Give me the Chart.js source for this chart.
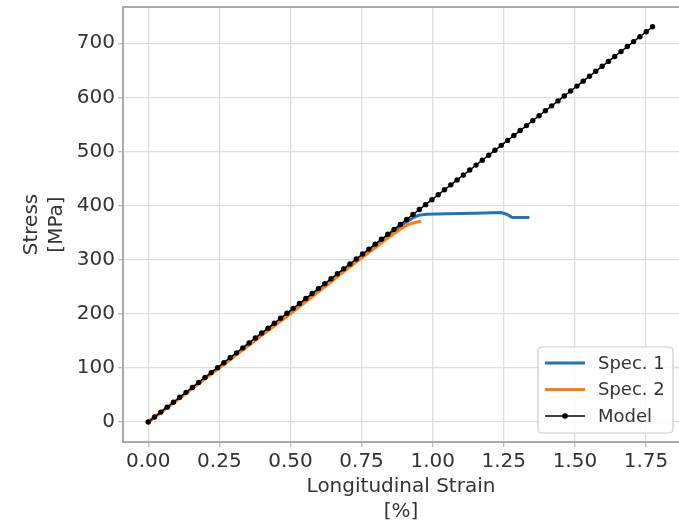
<!DOCTYPE html>
<html>
<head>
<meta charset="utf-8">
<script src="https://cdn.jsdelivr.net/npm/chart.js@4.4.1/dist/chart.umd.min.js"></script>
<style>
  html, body { margin: 0; padding: 0; background: #fff; overflow: hidden; }
  canvas { display: block; }
</style>
</head>
<body>
<canvas id="stressChart" width="679" height="526"></canvas>
<script>
// axis ticks
const xTicks = [0, 0.25, 0.5, 0.75, 1.0, 1.25, 1.5, 1.75];
const yTicks = [0, 100, 200, 300, 400, 500, 600, 700];

// Spec. 1 (measured)
const spec1Strain = [0, 0.1, 0.2, 0.3, 0.4, 0.5, 0.6, 0.7, 0.8, 0.86, 0.9, 0.93, 0.95, 0.98, 1.05, 1.15, 1.24, 1.26, 1.28, 1.34];
const spec1Stress = [0, 40, 81, 122, 163, 204, 245, 286, 327, 351, 367, 377, 382, 384, 385, 386, 387, 384, 378, 378];

// Spec. 2 (measured)
const spec2Strain = [0, 0.1, 0.2, 0.3, 0.4, 0.5, 0.6, 0.7, 0.75, 0.8, 0.85, 0.88, 0.9, 0.92, 0.94, 0.96];
const spec2Stress = [0, 40, 80, 120, 160, 200, 241, 283, 303, 323, 343, 354, 361, 366, 369, 371];

// linear elastic model, as plotted (81 markers)
const modelStrain = [
  0, 0.0222, 0.0443, 0.0665, 0.0887, 0.1108, 0.133, 0.1551, 0.1773, 0.1995,
  0.2216, 0.2438, 0.266, 0.2881, 0.3103, 0.3324, 0.3546, 0.3768, 0.3989, 0.4211,
  0.4433, 0.4654, 0.4876, 0.5097, 0.5319, 0.5541, 0.5762, 0.5984, 0.6206, 0.6427,
  0.6649, 0.687, 0.7092, 0.7314, 0.7535, 0.7757, 0.7979, 0.82, 0.8422, 0.8643,
  0.8865, 0.9087, 0.9308, 0.953, 0.9752, 0.9973, 1.0195, 1.0416, 1.0638, 1.086,
  1.1081, 1.1303, 1.1525, 1.1746, 1.1968, 1.2189, 1.2411, 1.2633, 1.2854, 1.3076,
  1.3298, 1.3519, 1.3741, 1.3962, 1.4184, 1.4406, 1.4627, 1.4849, 1.5071, 1.5292,
  1.5514, 1.5735, 1.5957, 1.6179, 1.64, 1.6622, 1.6844, 1.7065, 1.7287, 1.7508,
  1.773
];
const modelStress = [
  0, 9.13, 18.26, 27.39, 36.52, 45.65, 54.78, 63.91, 73.04, 82.17,
  91.3, 100.43, 109.56, 118.69, 127.82, 136.95, 146.08, 155.21, 164.34, 173.47,
  182.6, 191.73, 200.86, 209.99, 219.12, 228.25, 237.38, 246.51, 255.64, 264.77,
  273.9, 283.03, 292.16, 301.29, 310.42, 319.55, 328.68, 337.81, 346.94, 356.07,
  365.2, 374.33, 383.46, 392.59, 401.72, 410.85, 419.98, 429.11, 438.24, 447.37,
  456.5, 465.63, 474.76, 483.89, 493.02, 502.15, 511.28, 520.41, 529.54, 538.67,
  547.8, 556.93, 566.06, 575.19, 584.32, 593.45, 602.58, 611.71, 620.84, 629.97,
  639.1, 648.23, 657.36, 666.49, 675.62, 684.75, 693.88, 703.01, 712.14, 721.27,
  730.4
];

const seriesLabels = ['Spec. 1', 'Spec. 2', 'Model'];
const seriesColors = ['#1f77b4', '#ff7f0e', '#000000'];

const FONT = "'DejaVu Sans', 'Liberation Sans', sans-serif";
const TEXT = '#333333';
const SPINE = '#aaaaaa';
const GRID = '#dedede';

function pts(xs, ys) {
  return xs.map((x, i) => ({ x: x, y: ys[i] }));
}

// scales must not reserve room for half-labels at the ends
function noPad(s) {
  s.paddingLeft = 0;
  s.paddingRight = 0;
  s.paddingTop = 0;
  s.paddingBottom = 0;
}

// top spine + boxed legend in the lower right (matplotlib style)
// the plot area runs a few px past the canvas edge, like the cropped original
const framePlugin = {
  id: 'framePlugin',
  afterDraw(chart) {
    const ctx = chart.ctx;
    const a = chart.chartArea;
    ctx.save();
    ctx.strokeStyle = SPINE;
    ctx.lineWidth = 2;
    ctx.beginPath();
    ctx.moveTo(a.left - 1, a.top);
    ctx.lineTo(chart.width, a.top);
    ctx.stroke();

    const w = 135, h = 86, r = 4;
    const x0 = chart.width - 6 - w, y0 = a.bottom - 9 - h;
    ctx.beginPath();
    ctx.moveTo(x0 + r, y0);
    ctx.lineTo(x0 + w - r, y0);
    ctx.arcTo(x0 + w, y0, x0 + w, y0 + r, r);
    ctx.lineTo(x0 + w, y0 + h - r);
    ctx.arcTo(x0 + w, y0 + h, x0 + w - r, y0 + h, r);
    ctx.lineTo(x0 + r, y0 + h);
    ctx.arcTo(x0, y0 + h, x0, y0 + h - r, r);
    ctx.lineTo(x0, y0 + r);
    ctx.arcTo(x0, y0, x0 + r, y0, r);
    ctx.closePath();
    ctx.fillStyle = 'rgba(255,255,255,0.85)';
    ctx.fill();
    ctx.strokeStyle = '#cccccc';
    ctx.lineWidth = 1.2;
    ctx.stroke();

    ctx.font = '18px ' + FONT;
    ctx.textBaseline = 'middle';
    ctx.textAlign = 'left';
    seriesLabels.forEach((lab, i) => {
      const yy = y0 + 16 + i * 26.5;
      ctx.strokeStyle = seriesColors[i];
      ctx.lineWidth = i < 2 ? 3 : 1.5;
      ctx.beginPath();
      ctx.moveTo(x0 + 7, yy);
      ctx.lineTo(x0 + 47, yy);
      ctx.stroke();
      if (i === 2) {
        ctx.fillStyle = seriesColors[i];
        ctx.beginPath();
        ctx.arc(x0 + 27, yy, 2.8, 0, Math.PI * 2);
        ctx.fill();
      }
      ctx.fillStyle = TEXT;
      ctx.fillText(lab, x0 + 60, yy + 1);
    });
    ctx.restore();
  }
};

const ctx = document.getElementById('stressChart').getContext('2d');
new Chart(ctx, {
  type: 'line',
  data: {
    datasets: [
      {
        label: seriesLabels[0],
        data: pts(spec1Strain, spec1Stress),
        borderColor: seriesColors[0],
        borderWidth: 3,
        pointRadius: 0,
        fill: false,
        order: 2
      },
      {
        label: seriesLabels[1],
        data: pts(spec2Strain, spec2Stress),
        borderColor: seriesColors[1],
        borderWidth: 3,
        pointRadius: 0,
        fill: false,
        order: 1
      },
      {
        label: seriesLabels[2],
        data: pts(modelStrain, modelStress),
        borderColor: seriesColors[2],
        borderWidth: 1.5,
        pointRadius: 2.7,
        pointBorderWidth: 0,
        pointBackgroundColor: seriesColors[2],
        fill: false,
        order: 0
      }
    ]
  },
  options: {
    responsive: false,
    animation: false,
    devicePixelRatio: 1,
    layout: { autoPadding: false, padding: { top: 7, right: -6, bottom: 0, left: 0 } },
    plugins: {
      legend: { display: false },
      tooltip: { enabled: false }
    },
    scales: {
      x: {
        type: 'linear',
        min: -0.0887,
        max: 1.866,
        afterBuildTicks: (s) => { s.ticks = xTicks.map(v => ({ value: v })); },
        afterFit: (s) => { s.height = 84; noPad(s); },
        ticks: {
          color: TEXT,
          font: { family: FONT, size: 20 },
          padding: 3,
          maxRotation: 0,
          autoSkip: false,
          callback: (v) => Number(v).toFixed(2)
        },
        grid: { color: GRID, lineWidth: 1.3, drawTicks: true, tickLength: 5, tickColor: '#bbbbbb' },
        border: { color: SPINE, width: 2 },
        title: {
          display: true,
          text: ['Longitudinal Strain', '[%]'],
          color: TEXT,
          font: { family: FONT, size: 20, lineHeight: 1.25 },
          padding: { top: 0, bottom: 1.5 }
        }
      },
      y: {
        type: 'linear',
        min: -37,
        max: 767,
        afterBuildTicks: (s) => { s.ticks = yTicks.map(v => ({ value: v })); },
        afterFit: (s) => { s.width = 123; noPad(s); },
        ticks: {
          color: TEXT,
          font: { family: FONT, size: 20 },
          padding: 3,
          autoSkip: false,
          callback: (v) => String(v)
        },
        grid: { color: GRID, lineWidth: 1.3, drawTicks: true, tickLength: 5, tickColor: '#bbbbbb' },
        border: { color: SPINE, width: 2 },
        title: {
          display: true,
          text: ['Stress', '[MPa]'],
          color: TEXT,
          font: { family: FONT, size: 20, lineHeight: 1.25 },
          padding: { top: 19.5, bottom: 0 }
        }
      }
    }
  },
  plugins: [framePlugin]
});
</script>
</body>
</html>
